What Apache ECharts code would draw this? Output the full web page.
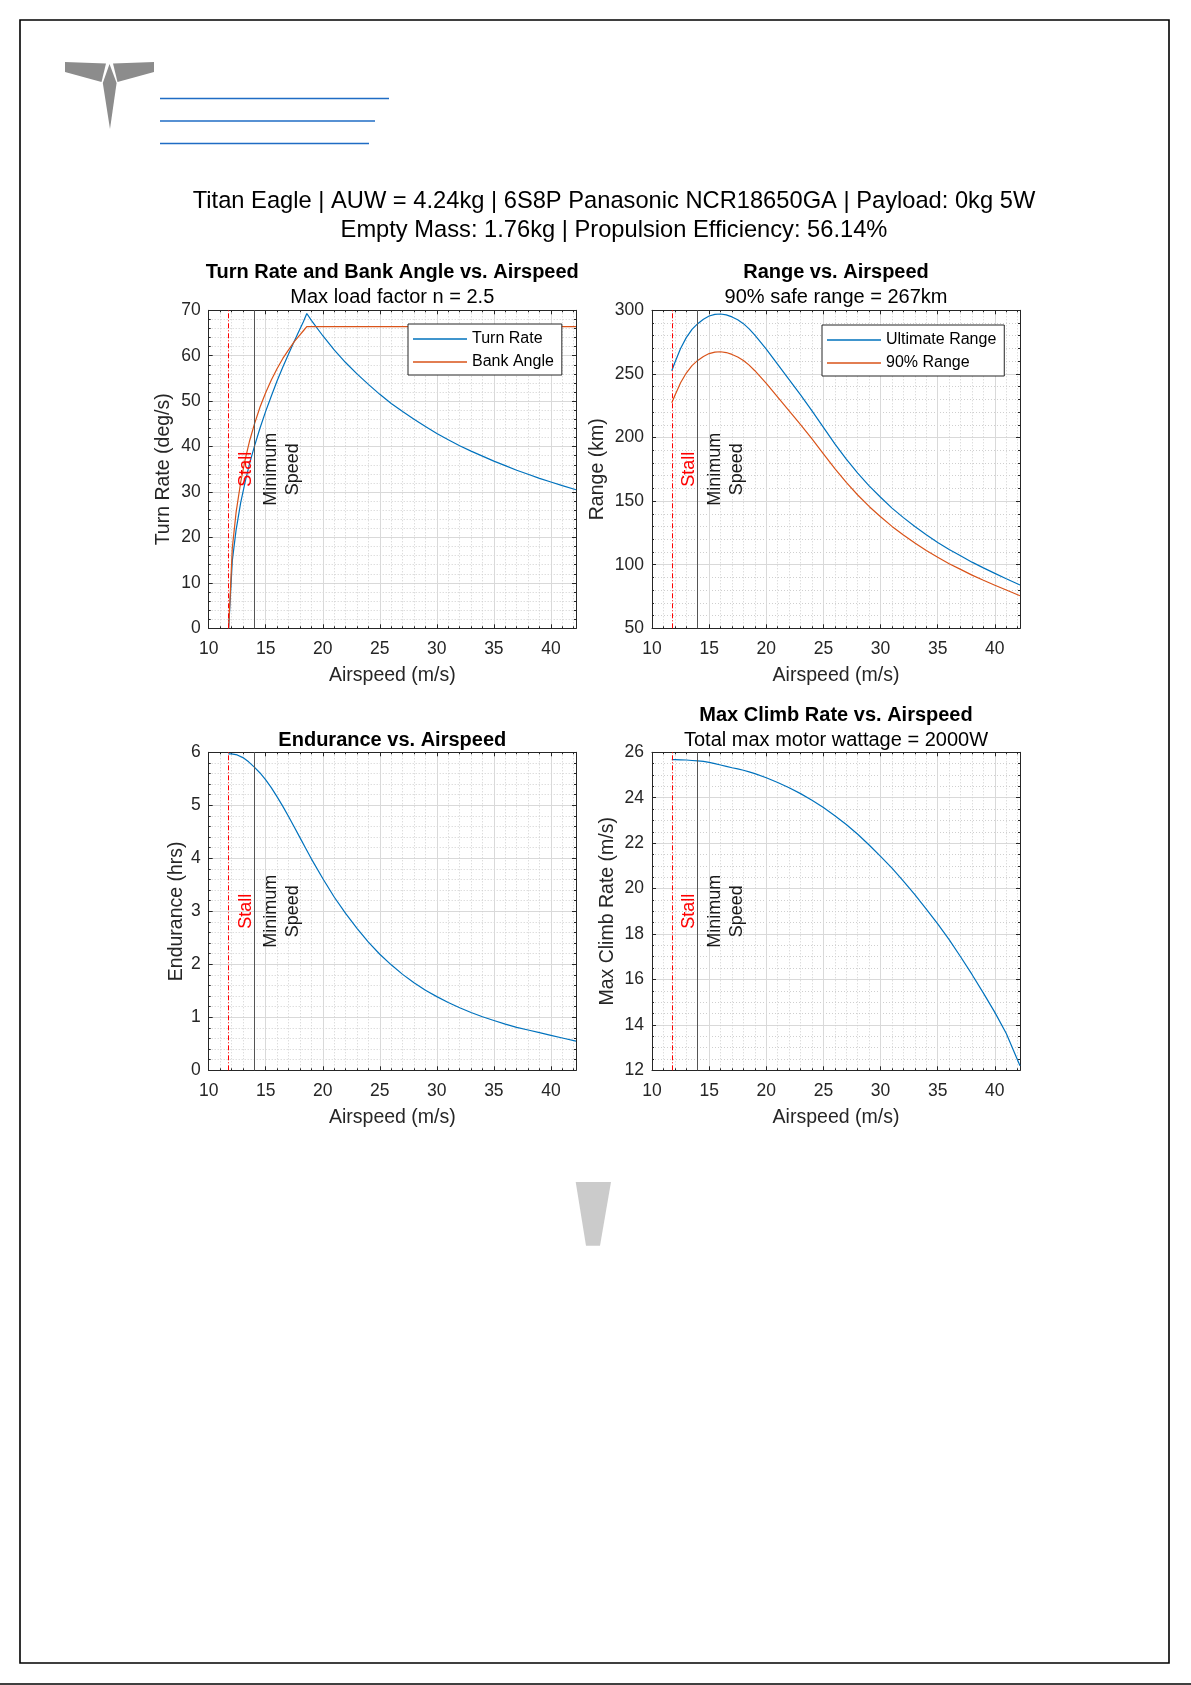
<!DOCTYPE html>
<html>
<head>
<meta charset="utf-8">
<script src="https://cdn.jsdelivr.net/npm/echarts@6/dist/echarts.min.js"></script>
<style>
  html, body { margin: 0; padding: 0; background: #ffffff; }
  #chart { width: 1191px; height: 1685px; }
</style>
</head>
<body>
<div id="chart"></div>
<script>
// ---------------- DATA ----------------
const mainTitleLines = [
  'Titan Eagle | AUW = 4.24kg | 6S8P Panasonic NCR18650GA | Payload: 0kg 5W',
  'Empty Mass: 1.76kg | Propulsion Efficiency: 56.14%'
];

const stallSpeed = 11.73;
const minSpeed = 14.0;

// Chart 1: turn rate / bank angle
const turnSpeed = [11.75, 12.07, 12.4, 12.8, 13.2, 13.6, 14.0, 14.5, 15.0, 15.5, 16.0, 16.5, 17.0, 17.5, 18.0, 18.3, 18.6,
  19, 20, 21, 22, 23, 24, 25, 26, 27, 28, 29, 30, 31, 32, 33, 34, 35, 36, 37, 38, 39, 40, 41, 42.2];
const turnRate = [0, 14.9, 21.6, 27.6, 32.3, 36.4, 40.0, 44.1, 47.8, 51.2, 54.5, 57.5, 60.4, 63.2, 65.9, 67.5, 69.3,
  67.8, 64.4, 61.3, 58.5, 56.0, 53.7, 51.5, 49.5, 47.7, 46.0, 44.4, 42.9, 41.5, 40.2, 39.0, 37.9, 36.8, 35.8, 34.8, 33.9, 33.0, 32.2, 31.4, 30.5];
const bankAngle = [0, 17.7, 25.5, 32.1, 37.2, 41.4, 44.9, 48.7, 51.9, 54.7, 57.2, 59.4, 61.3, 63.1, 64.6, 65.5, 66.4,
  66.4, 66.4, 66.4, 66.4, 66.4, 66.4, 66.4, 66.4, 66.4, 66.4, 66.4, 66.4, 66.4, 66.4, 66.4, 66.4, 66.4, 66.4, 66.4, 66.4, 66.4, 66.4, 66.4, 66.4];

// Charts 2-4 share the airspeed samples
const airspeed = [11.73, 12, 12.5, 13, 13.5, 14, 14.5, 15, 15.5, 16, 16.5, 17, 17.5, 18, 18.5,
  19, 20, 21, 22, 23, 24, 25, 26, 27, 28, 29, 30, 31, 32, 33, 34, 35, 36, 37, 38, 39, 40, 41, 42.2];
const ultimateRange = [252.5, 259, 270, 278.5, 285, 289.5, 293, 295.5, 296.8, 297.1, 296.4, 294.8, 292.5, 289.5, 285.4,
  280.5, 269.5, 257.5, 245.5, 233.5, 221, 208, 195, 183, 172, 162, 153, 144.5, 137, 130, 123.5, 117.5, 112, 107, 102, 97.5, 93.2, 89, 84];
const range90 = [227.3, 233.1, 243.0, 250.7, 256.5, 260.6, 263.7, 266.0, 267.1, 267.4, 266.8, 265.3, 263.3, 260.6, 256.9,
  252.5, 242.6, 231.8, 221.0, 210.2, 198.9, 187.2, 175.5, 164.7, 154.8, 145.8, 137.7, 130.1, 123.3, 117.0, 111.2, 105.8, 100.8, 96.3, 91.8, 87.8, 83.9, 80.1, 75.6];
const endurance = [5.97, 5.97, 5.95, 5.9, 5.82, 5.72, 5.61, 5.48, 5.33, 5.16, 4.98, 4.79, 4.59, 4.39, 4.19,
  3.99, 3.62, 3.27, 2.96, 2.68, 2.42, 2.19, 1.99, 1.81, 1.65, 1.51, 1.39, 1.28, 1.18, 1.09, 1.01, 0.94, 0.87, 0.81, 0.76, 0.71, 0.66, 0.61, 0.55];
const climbRate = [25.68, 25.68, 25.67, 25.66, 25.64, 25.62, 25.6, 25.56, 25.5, 25.44, 25.38, 25.32, 25.27, 25.21, 25.14,
  25.06, 24.88, 24.67, 24.44, 24.18, 23.89, 23.57, 23.21, 22.82, 22.39, 21.92, 21.42, 20.9, 20.33, 19.73, 19.1, 18.45, 17.75, 17.0, 16.22, 15.4, 14.55, 13.62, 12.2];

const yRanges = [
  { min: 0, max: 70, interval: 10, minor: 5, name: 'Turn Rate (deg/s)' },
  { min: 50, max: 300, interval: 50, minor: 5, name: 'Range (km)' },
  { min: 0, max: 6, interval: 1, minor: 5, name: 'Endurance (hrs)' },
  { min: 12, max: 26, interval: 2, minor: 4, name: 'Max Climb Rate (m/s)' }
];
const labelMid = [35, 175, 3, 19];
const stallLabelX = 13.25;
const minLabelX = 16.45;

// ---------------- LAYOUT / STYLE ----------------
const FONT = '"Liberation Sans", Arial, Helvetica, sans-serif';
const BLUE = '#0072BD', ORANGE = '#D95319', AX = '#262626';
const grids = [
  { left: 208.7, top: 310.3, width: 367.3, height: 318 },
  { left: 652, top: 310.3, width: 368, height: 318 },
  { left: 208.7, top: 752.3, width: 367.3, height: 318 },
  { left: 652, top: 752.3, width: 368, height: 318 }
];
const yNameGaps = [35, 44, 22, 34];

const xAxes = [], yAxes = [];
grids.forEach((g, i) => {
  xAxes.push({
    type: 'value', gridIndex: i, min: 10, max: 42.2, interval: 5, position: 'bottom',
    axisLine: { show: true, onZero: false, lineStyle: { color: AX, width: 1 } },
    axisTick: { show: true, inside: true, length: 4, lineStyle: { color: AX } },
    minorTick: { show: true, splitNumber: 5, length: 2, lineStyle: { color: AX } },
    splitLine: { show: true, lineStyle: { color: '#d9d9d9', width: 1 } },
    minorSplitLine: { show: true, lineStyle: { color: '#cfcfcf', width: 1, type: [1, 2] } },
    axisLabel: { showMaxLabel: false, fontSize: 17.5, color: AX, fontFamily: FONT, margin: 12 },
    name: 'Airspeed (m/s)', nameLocation: 'middle', nameGap: 37,
    nameTextStyle: { fontSize: 19.5, color: AX, fontFamily: FONT }
  });
  xAxes.push({
    type: 'value', gridIndex: i, min: 10, max: 42.2, interval: 5, position: 'top',
    axisLine: { show: true, onZero: false, lineStyle: { color: AX, width: 1 } },
    axisTick: { show: true, inside: true, length: 4, lineStyle: { color: AX } },
    minorTick: { show: true, splitNumber: 5, length: 2, lineStyle: { color: AX } },
    splitLine: { show: false }, axisLabel: { show: false }
  });
  const yr = yRanges[i];
  yAxes.push({
    type: 'value', gridIndex: i, min: yr.min, max: yr.max, interval: yr.interval, position: 'left',
    axisLine: { show: true, onZero: false, lineStyle: { color: AX, width: 1 } },
    axisTick: { show: true, inside: true, length: 4, lineStyle: { color: AX } },
    minorTick: { show: true, splitNumber: yr.minor, length: 2, lineStyle: { color: AX } },
    splitLine: { show: true, lineStyle: { color: '#d9d9d9', width: 1 } },
    minorSplitLine: { show: true, lineStyle: { color: '#cfcfcf', width: 1, type: [1, 2] } },
    axisLabel: { fontSize: 17.5, color: AX, fontFamily: FONT, margin: 8 },
    name: yr.name, nameLocation: 'middle', nameGap: yNameGaps[i], nameRotate: 90,
    nameTextStyle: { fontSize: 19.5, color: AX, fontFamily: FONT }
  });
  yAxes.push({
    type: 'value', gridIndex: i, min: yr.min, max: yr.max, interval: yr.interval, position: 'right',
    axisLine: { show: true, onZero: false, lineStyle: { color: AX, width: 1 } },
    axisTick: { show: true, inside: true, length: 4, lineStyle: { color: AX } },
    minorTick: { show: true, splitNumber: yr.minor, length: 2, lineStyle: { color: AX } },
    splitLine: { show: false }, axisLabel: { show: false }
  });
});

function pairs(xs, ys) { return xs.map((x, i) => [x, ys[i]]); }
function lineSeries(name, i, xs, ys, color) {
  return {
    type: 'line', name: name, xAxisIndex: 2 * i, yAxisIndex: 2 * i,
    data: pairs(xs, ys), symbol: 'none', smooth: false, clip: true,
    lineStyle: { color: color, width: 1.2 }, itemStyle: { color: color }, z: 3, silent: true
  };
}
function annotSeries(i) {
  return {
    type: 'scatter', xAxisIndex: 2 * i, yAxisIndex: 2 * i, symbol: 'circle', symbolSize: 1, silent: true, z: 6,
    itemStyle: { color: 'rgba(0,0,0,0)', opacity: 1 },
    label: { show: true, position: 'inside', rotate: 90, fontSize: 18, fontFamily: FONT, lineHeight: 22, align: 'center', verticalAlign: 'middle', opacity: 1 },
    labelLayout: { hideOverlap: false },
    data: [
      { value: [stallLabelX, labelMid[i]], label: { formatter: 'Stall', color: '#ff0000' } },
      { value: [minLabelX, labelMid[i]], label: { formatter: 'Minimum\nSpeed', color: '#1a1a1a' } }
    ],
    markLine: {
      symbol: 'none', silent: true, label: { show: false }, animation: false,
      data: [
        { xAxis: stallSpeed, lineStyle: { color: '#ff0000', type: [5, 2, 1, 2], width: 1 } },
        { xAxis: minSpeed, lineStyle: { color: '#555555', type: 'solid', width: 1 } }
      ]
    }
  };
}

const series = [
  lineSeries('Turn Rate', 0, turnSpeed, turnRate, BLUE),
  lineSeries('Bank Angle', 0, turnSpeed, bankAngle, ORANGE),
  lineSeries('Ultimate Range', 1, airspeed, ultimateRange, BLUE),
  lineSeries('90% Range', 1, airspeed, range90, ORANGE),
  lineSeries('Endurance', 2, airspeed, endurance, BLUE),
  lineSeries('Max Climb Rate', 3, airspeed, climbRate, BLUE),
  annotSeries(0), annotSeries(1), annotSeries(2), annotSeries(3)
];

const legendBase = {
  orient: 'vertical', backgroundColor: '#ffffff', borderColor: AX, borderWidth: 1,
  icon: 'rect', itemWidth: 54, itemHeight: 1.3, itemGap: 7, padding: [7, 8, 5, 5], selectedMode: false,
  textStyle: { fontSize: 16, color: '#000', fontFamily: FONT, lineHeight: 14 }
};
const legends = [
  Object.assign({}, legendBase, { left: 408, top: 324, data: ['Turn Rate', 'Bank Angle'] }),
  Object.assign({}, legendBase, { left: 822, top: 325, data: ['Ultimate Range', '90% Range'] })
];

function txt(x, y, text, size, weight, color) {
  return { type: 'text', x: x, y: y, silent: true,
    style: { text: text, fontSize: size, fontWeight: weight || 'normal', fontFamily: FONT, fill: color || '#000',
      align: 'center', verticalAlign: 'middle' } };
}

const graphics = [
  // page frame
  { type: 'rect', shape: { x: 20, y: 20, width: 1149, height: 1643 }, style: { fill: 'none', stroke: '#000', lineWidth: 1.6 }, silent: true },
  { type: 'line', shape: { x1: 0, y1: 1684, x2: 1191, y2: 1684 }, style: { stroke: '#000', lineWidth: 1.6 }, silent: true },
  // logo
  { type: 'polygon', shape: { points: [[65, 62], [106, 63.5], [101.5, 82], [65, 72]] }, style: { fill: '#8c8c8c' }, silent: true },
  { type: 'polygon', shape: { points: [[113, 63.5], [154, 62], [154, 72], [117.5, 82]] }, style: { fill: '#8c8c8c' }, silent: true },
  { type: 'polygon', shape: { points: [[109.5, 64], [102.8, 83], [110, 129], [116.6, 83]] }, style: { fill: '#8c8c8c' }, silent: true },
  // link underlines
  { type: 'line', shape: { x1: 160, y1: 98.5, x2: 389, y2: 98.5 }, style: { stroke: '#1f6cc4', lineWidth: 1.4 }, silent: true },
  { type: 'line', shape: { x1: 160, y1: 121, x2: 375, y2: 121 }, style: { stroke: '#1f6cc4', lineWidth: 1.4 }, silent: true },
  { type: 'line', shape: { x1: 160, y1: 143.5, x2: 369, y2: 143.5 }, style: { stroke: '#1f6cc4', lineWidth: 1.4 }, silent: true },
  // bottom logo mark
  { type: 'polygon', shape: { points: [[575.7, 1182], [611, 1182], [600, 1245.7], [586, 1245.7]] }, style: { fill: '#cbcbcb' }, silent: true },
  // titles
  txt(614, 201, mainTitleLines[0], 23.7),
  txt(614, 230, mainTitleLines[1], 23.7),
  txt(392.3, 272.7, 'Turn Rate and Bank Angle vs. Airspeed', 20, 'bold'),
  txt(392.3, 297.7, 'Max load factor n = 2.5', 20),
  txt(836, 272.7, 'Range vs. Airspeed', 20, 'bold'),
  txt(836, 297.7, '90% safe range = 267km', 20),
  txt(392.3, 740.7, 'Endurance vs. Airspeed', 20, 'bold'),
  txt(836, 715, 'Max Climb Rate vs. Airspeed', 20, 'bold'),
  txt(836, 740.7, 'Total max motor wattage = 2000W', 20)
];

const chart = echarts.init(document.getElementById('chart'), null, { renderer: 'canvas' });
chart.setOption({
  animation: false,
  backgroundColor: '#ffffff',
  textStyle: { fontFamily: FONT },
  grid: grids,
  xAxis: xAxes,
  yAxis: yAxes,
  legend: legends,
  series: series,
  graphic: graphics
});
</script>
</body>
</html>
